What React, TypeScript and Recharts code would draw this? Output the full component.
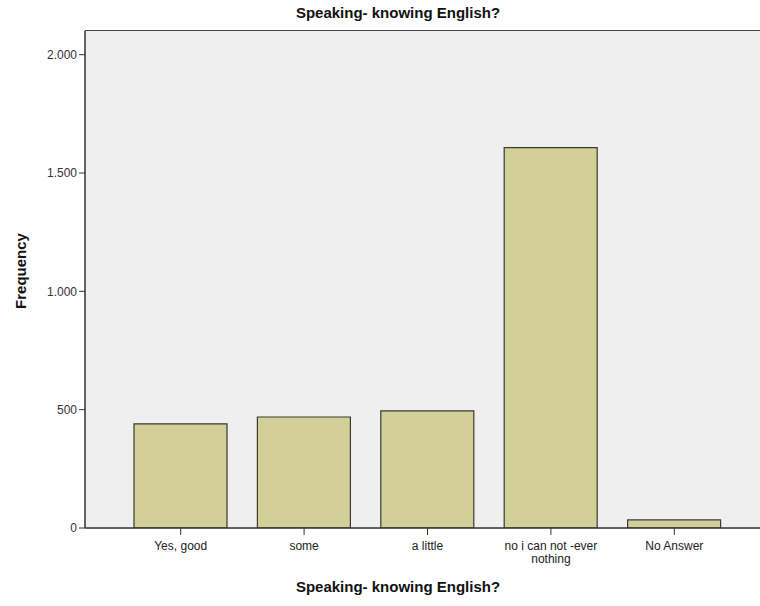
import React from 'react';
import { BarChart, Bar, XAxis, YAxis } from 'recharts';

const categories = ['Yes, good', 'some', 'a little', 'no i can not -ever nothing', 'No Answer'];
const frequencies = [440, 469, 495, 1607, 34];
const yTicks = [0, 500, 1000, 1500, 2000];

const data = categories.map((c, i) => ({ name: c, value: frequencies[i] }));

const FONT = '"Liberation Sans", Arial, sans-serif';

const fmt = (v: number) => String(v).replace(/\B(?=(\d{3})+(?!\d))/g, '.');

const XTick = (props: any) => {
  const { x, y, payload } = props;
  const words: string[] = String(payload.value).split(' ');
  const lines: string[] = [];
  let cur = '';
  for (const w of words) {
    const next = cur ? cur + ' ' + w : w;
    if (next.length > 18 && cur) {
      lines.push(cur);
      cur = w;
    } else cur = next;
  }
  if (cur) lines.push(cur);
  return (
    <text x={x} y={y + 13} textAnchor="middle" fontFamily={FONT} fontSize={12} fill="#222">
      {lines.map((l, i) => (
        <tspan key={i} x={x} dy={i === 0 ? 0 : 13}>{l}</tspan>
      ))}
    </text>
  );
};

export default function App() {
  return (
    <div style={{ position: 'absolute', left: 0, top: 0, width: 760, height: 606, background: '#fff', fontFamily: FONT, overflow: 'hidden' }}>
      <div style={{ position: 'absolute', left: 85, width: 700, top: 30, height: 498, background: '#efefef', borderTop: '1.5px solid #444' }} />
      <BarChart width={780} height={606} data={data} margin={{ top: 31, right: 0, bottom: 0, left: 0 }} style={{ position: 'absolute', left: 0, top: 0 }}>
        <XAxis
          dataKey="name"
          height={78}
          padding={{ left: 34, right: 44 }}
          tick={<XTick />}
          tickLine={{ stroke: '#333' }}
          tickSize={7}
          axisLine={{ stroke: '#333', strokeWidth: 1.5 }}
          interval={0}
        />
        <YAxis
          width={85}
          domain={[0, 2100]}
          ticks={yTicks}
          tickFormatter={fmt}
          tick={{ fontFamily: FONT, fontSize: 12, fill: '#333' }}
          tickLine={{ stroke: '#333' }}
          tickSize={6}
          axisLine={{ stroke: '#333', strokeWidth: 1.5 }}
          allowDataOverflow
        />
        <Bar dataKey="value" fill="#d3cf98" stroke="#3b3b30" strokeWidth={1.2} barSize={93} isAnimationActive={false} />
      </BarChart>
      <div style={{ position: 'absolute', left: 0, width: 796, top: 4, textAlign: 'center', fontSize: 15, fontWeight: 'bold', color: '#111' }}>
        Speaking- knowing English?
      </div>
      <div style={{ position: 'absolute', left: 0, width: 796, top: 578, textAlign: 'center', fontSize: 15, fontWeight: 'bold', color: '#111' }}>
        Speaking- knowing English?
      </div>
      <div style={{ position: 'absolute', left: 20, top: 271, width: 0, height: 0 }}>
        <div style={{ position: 'absolute', transform: 'translate(-50%, -50%) rotate(-90deg)', fontSize: 15, fontWeight: 'bold', color: '#111', whiteSpace: 'nowrap' }}>
          Frequency
        </div>
      </div>
    </div>
  );
}
